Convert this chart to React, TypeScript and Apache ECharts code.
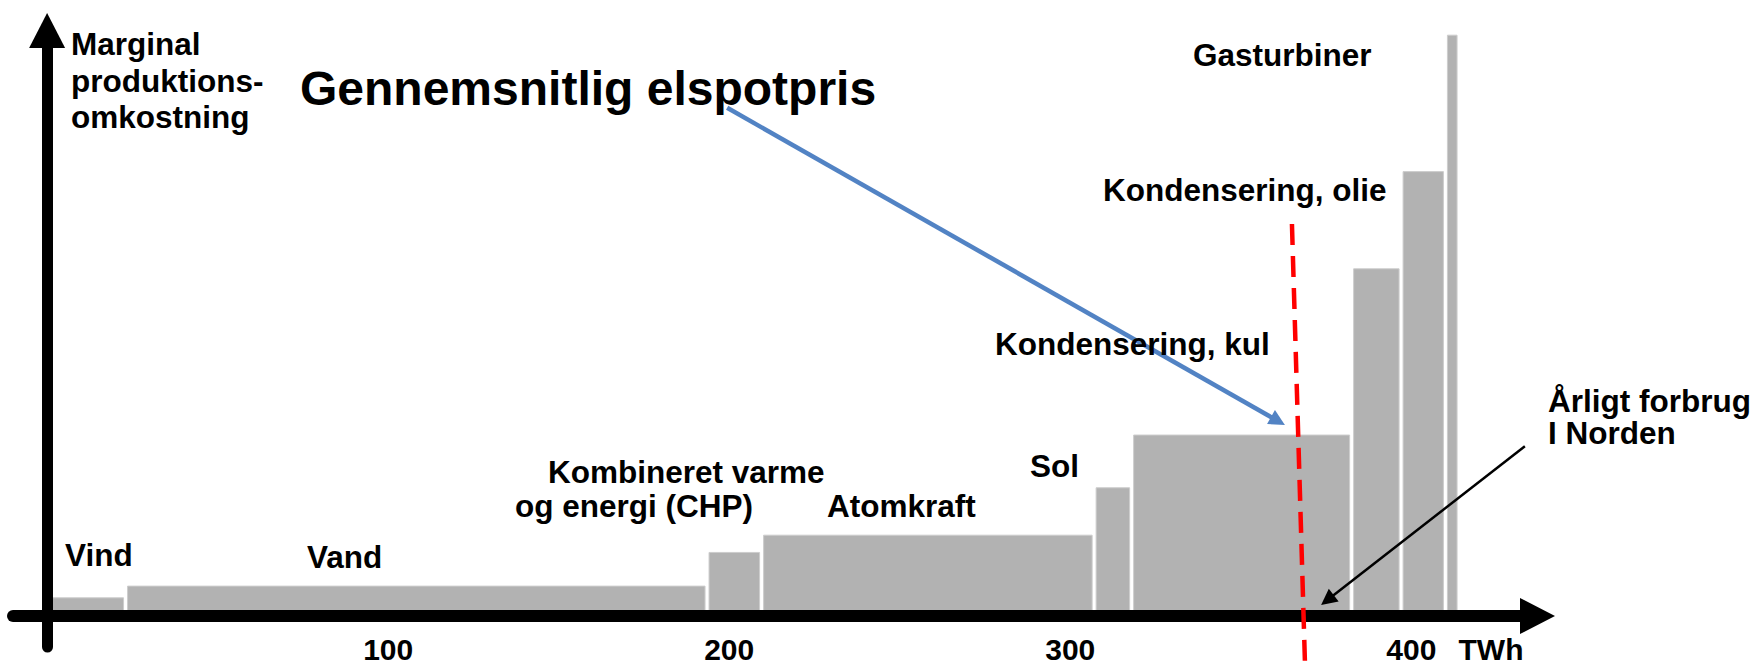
import React, { useEffect, useRef } from 'react';
import * as echarts from 'echarts';

// ---- data ----
const sources = [
  'Vind',
  'Vand',
  'Kombineret varme og energi (CHP)',
  'Atomkraft',
  'Sol',
  'Kondensering, kul',
  'Kondensering, olie',
  'Kondensering, olie',
  'Gasturbiner',
];
// annual production capacity (TWh), width of each block
const capacityTWh = [23, 170.5, 16, 97.5, 11, 64.5, 14.5, 13, 4];
// marginal production cost (relative units), height of each block
const marginalCost = [3.1, 5.1, 10.85, 13.8, 21.9, 30.9, 59.3, 75.9, 99.2];
const xTickValues = [100, 200, 300, 400];
const xUnit = 'TWh';
// annotations in data coordinates [TWh, cost]
const priceArrow = [[199.4, 86.8], [360.9, 33.3]];
const consumptionArrow = [[433.3, 29.0], [375.4, 2.72]];
const consumptionLine = [[365.0, 66.95], [368.8, -7.69]];

const FONT = '"Liberation Sans", Arial, Helvetica, sans-serif';

function txt(text: string, x: number, y: number, fontSize: number, extra: any = {}) {
  return {
    type: 'text',
    x,
    y,
    z: 20,
    silent: true,
    style: {
      text,
      fill: '#000000',
      fontSize,
      fontWeight: 'bold',
      fontFamily: FONT,
      align: 'left',
      verticalAlign: 'middle',
      ...extra,
    },
  };
}

export default function App() {
  const ref = useRef<HTMLDivElement>(null);
  useEffect(() => {
    const chart = echarts.init(ref.current as HTMLDivElement, null, { renderer: 'svg' });
    let acc = 0;
    const barData = capacityTWh.map((w, i) => {
      const s = acc;
      acc += w;
      return { name: sources[i], value: [s, acc, marginalCost[i]] };
    });
    const LFS = 31.5;
    chart.setOption({
      animation: false,
      backgroundColor: '#ffffff',
      textStyle: { fontFamily: FONT },
      grid: { left: 13, right: 218.5, top: 30.5, bottom: 17, containLabel: false, outerBoundsMode: 'none' },
      xAxis: {
        type: 'value',
        min: -10,
        max: 437,
        z: 10,
        axisLine: {
          show: true,
          onZero: true,
          lineStyle: { color: '#000000', width: 12 },
          symbol: ['none', 'triangle'],
          symbolSize: [36, 35],
        },
        axisTick: { show: false },
        splitLine: { show: false },
        axisLabel: {
          customValues: xTickValues,
          margin: -13,
          color: '#000000',
          fontSize: 30,
          fontWeight: 'bold',
          fontFamily: FONT,
        },
      },
      yAxis: {
        type: 'value',
        min: -5.3,
        max: 100,
        z: 10,
        axisLine: {
          show: true,
          onZero: true,
          lineStyle: { color: '#000000', width: 11 },
          symbol: ['none', 'triangle'],
          symbolSize: [36, 35],
        },
        axisTick: { show: false },
        splitLine: { show: false },
        axisLabel: { show: false },
      },
      series: [
        {
          type: 'custom',
          silent: true,
          z: 2,
          encode: { x: [0, 1], y: 2 },
          data: barData,
          renderItem: (params: any, api: any) => {
            const p0 = api.coord([api.value(0), api.value(2)]);
            const p1 = api.coord([api.value(1), 0]);
            const gap = 2;
            return {
              type: 'rect',
              shape: {
                x: p0[0] + gap,
                y: p0[1],
                width: p1[0] - p0[0] - 2 * gap,
                height: p1[1] - p0[1],
              },
              style: { fill: '#b2b2b2', stroke: '#cdcdcd', lineWidth: 1 },
            };
          },
        },
        {
          type: 'lines',
          coordinateSystem: 'cartesian2d',
          silent: true,
          clip: false,
          z: 12,
          symbol: ['none', 'triangle'],
          symbolSize: [16, 16],
          lineStyle: { color: '#5283c4', width: 4.5, opacity: 1, curveness: 0 },
          data: [{ coords: priceArrow }],
        },
        {
          type: 'lines',
          coordinateSystem: 'cartesian2d',
          silent: true,
          clip: false,
          z: 12,
          symbol: ['none', 'triangle'],
          symbolSize: [13, 16],
          lineStyle: { color: '#000000', width: 2.5, opacity: 1, curveness: 0 },
          data: [{ coords: consumptionArrow }],
        },
        {
          type: 'lines',
          coordinateSystem: 'cartesian2d',
          silent: true,
          clip: false,
          z: 12,
          symbol: ['none', 'none'],
          lineStyle: { color: '#ff0000', width: 4.5, opacity: 1, type: [21, 11], curveness: 0 },
          data: [{ coords: consumptionLine }],
        },
      ],
      graphic: [
        txt('Marginal\nproduktions-\nomkostning', 71, 25.75, LFS, { verticalAlign: 'top', lineHeight: 36.5 }),
        txt('Gennemsnitlig elspotpris', 300, 88.5, 48),
        txt('Gasturbiner', 1193, 55, LFS),
        txt('Kondensering, olie', 1103, 190, LFS),
        txt('Kondensering, kul', 995, 344, LFS),
        txt('Sol', 1030, 466, LFS),
        txt('Kombineret varme', 548, 472, LFS),
        txt('og energi (CHP)', 515, 506, LFS),
        txt('Atomkraft', 827, 506, LFS),
        txt('Vind', 65, 555, LFS),
        txt('Vand', 307, 557, LFS),
        txt('Årligt forbrug', 1548, 401, LFS),
        txt('I Norden', 1548, 433, LFS),
        txt(xUnit, 1491, 649, 30, { align: 'center' }),
      ],
    });
    return () => chart.dispose();
  }, []);
  return (
    <div
      ref={ref}
      style={{ position: 'absolute', left: 0, top: 0, width: 1756, height: 664, background: '#ffffff' }}
    />
  );
}
